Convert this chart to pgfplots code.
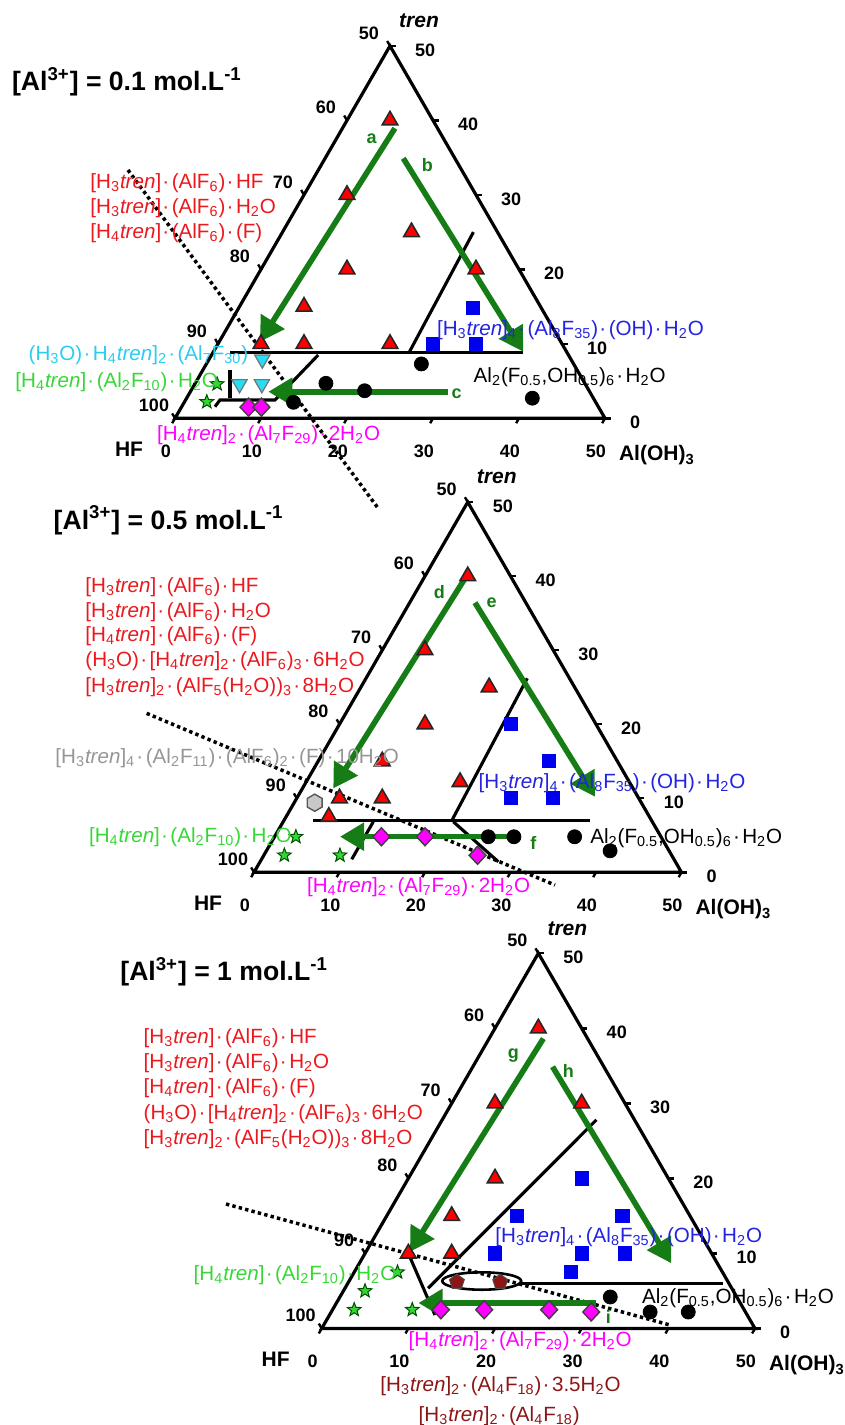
\documentclass[border=0pt]{standalone}
\usepackage{fontspec}
\setmainfont{Liberation Sans}
\usepackage{pgfplots}
\pgfplotsset{compat=1.18}
\usetikzlibrary{arrows.meta}

\definecolor{mred}{RGB}{255,0,0}
\definecolor{tred}{RGB}{235,25,30}
\definecolor{mblue}{RGB}{0,0,240}
\definecolor{tblue}{RGB}{35,35,225}
\definecolor{mcyan}{RGB}{40,220,245}
\definecolor{tcyan}{RGB}{40,205,240}
\definecolor{mgreen}{RGB}{50,215,50}
\definecolor{tgreen}{RGB}{55,215,55}
\definecolor{mmag}{RGB}{255,0,255}
\definecolor{tgray}{RGB}{150,150,150}
\definecolor{mgray}{RGB}{200,200,200}
\definecolor{dred}{RGB}{140,22,22}
\definecolor{agreen}{RGB}{22,125,22}

\pgfdeclareplotmark{fstar}{%
  \pgfpathmoveto{\pgfpointpolar{90}{1\pgfplotmarksize}}%
  \pgfpathlineto{\pgfpointpolar{126}{0.42\pgfplotmarksize}}%
  \pgfpathlineto{\pgfpointpolar{162}{1\pgfplotmarksize}}%
  \pgfpathlineto{\pgfpointpolar{198}{0.42\pgfplotmarksize}}%
  \pgfpathlineto{\pgfpointpolar{234}{1\pgfplotmarksize}}%
  \pgfpathlineto{\pgfpointpolar{270}{0.42\pgfplotmarksize}}%
  \pgfpathlineto{\pgfpointpolar{306}{1\pgfplotmarksize}}%
  \pgfpathlineto{\pgfpointpolar{342}{0.42\pgfplotmarksize}}%
  \pgfpathlineto{\pgfpointpolar{18}{1\pgfplotmarksize}}%
  \pgfpathlineto{\pgfpointpolar{54}{0.42\pgfplotmarksize}}%
  \pgfpathclose\pgfusepathqfillstroke}
\pgfdeclareplotmark{hex}{%
  \pgfpathmoveto{\pgfpointpolar{90}{1\pgfplotmarksize}}%
  \pgfpathlineto{\pgfpointpolar{150}{1\pgfplotmarksize}}%
  \pgfpathlineto{\pgfpointpolar{210}{1\pgfplotmarksize}}%
  \pgfpathlineto{\pgfpointpolar{270}{1\pgfplotmarksize}}%
  \pgfpathlineto{\pgfpointpolar{330}{1\pgfplotmarksize}}%
  \pgfpathlineto{\pgfpointpolar{30}{1\pgfplotmarksize}}%
  \pgfpathclose\pgfusepathqfillstroke}

\pgfplotsset{
  /pgfplots/table/tern/.style={row sep=\\, x expr={\thisrow{a}+0.5*\thisrow{t}}, y expr={0.8660254*\thisrow{t}}},
  ternax/.style={hide axis, scale only axis, clip=false, anchor=south west,
    xmin=0, xmax=50, ymin=0, ymax=43.30127},
  rtri/.style={only marks, mark=triangle*, mark size=4.5pt, mark options={fill=mred, draw=black!85, line width=0.8pt}},
  bsq/.style={only marks, mark=square*, mark size=3.3pt, mark options={fill=mblue, draw=mblue}},
  kcirc/.style={only marks, mark=*, mark size=3.5pt, mark options={fill=black, draw=black}},
  ctri/.style={only marks, mark=triangle*, mark size=4.4pt, mark options={rotate=180, fill=mcyan, draw=black!55, line width=0.6pt}},
  gstar/.style={only marks, mark=fstar, mark size=3.6pt, mark options={fill=mgreen, draw=black!70!green, line width=0.5pt}},
  mdia/.style={only marks, mark=diamond*, mark size=4.5pt, mark options={xscale=1.25, fill=mmag, draw=black!75, line width=0.7pt}},
  ghex/.style={only marks, mark=hex, mark size=4.3pt, mark options={fill=mgray, draw=black!65, line width=0.7pt}},
  dpent/.style={only marks, mark=pentagon*, mark size=3.9pt, mark options={fill=dred, draw=black!70, line width=0.5pt}},
  bl/.style={black, line width=1.55pt, mark=none},
  dotl/.style={black, line width=1.75pt, mark=none, dash pattern=on 1.7pt off 1.6pt},
  garrow/.style={draw=agreen, line width=2.8pt, mark=none, -{Triangle[length=12pt,width=13.5pt]}},
}

\newcommand\ticf{\fontsize{9}{10}\selectfont\bfseries}
\newcommand\cornf{\fontsize{10.5}{12}\selectfont\bfseries}
\newcommand\ternframe{%
  \draw[black, line width=1.6pt, line join=miter] (axis cs:0,0) -- (axis cs:50,0) -- (axis cs:25,43.30127) -- cycle;
  \pgfplotsinvokeforeach{0,10,20,30,40,50}{%
    \draw[line width=1.2pt] (axis cs:{0.5*##1},{0.8660254*##1}) -- ++(axis direction cs:-0.33,0.57);
    \draw[line width=1.2pt] (axis cs:{##1},0) -- ++(axis direction cs:-0.33,-0.57);
    \draw[line width=1.2pt] (axis cs:{50-0.5*##1},{0.8660254*##1}) -- ++(axis direction cs:0.66,0);
    \node[font=\ticf, xshift=-10.5pt, yshift=6.5pt] at (axis cs:{0.5*##1},{0.8660254*##1}) {\the\numexpr100-##1\relax};
    \node[font=\ticf, xshift=-4.5pt, yshift=-16.5pt] at (axis cs:{##1},0) {##1};
    \node[font=\ticf, anchor=west, xshift=9pt, yshift=-2pt] at (axis cs:{50-0.5*##1},{0.8660254*##1}) {##1};
  }
  \node[font=\cornf, xshift=-23pt, yshift=-15.5pt] at (axis cs:0,0) {HF};
  \node[font=\cornf, anchor=west, xshift=3.5pt, yshift=-18.5pt] at (axis cs:50,0) {Al(OH)\textsubscript{3}};
  \node[font=\cornf\itshape, xshift=14.5pt, yshift=12.5pt] at (axis cs:25,43.30127) {tren};
}

\newcommand\dt{\kern0.06em·\kern0.12em}
\newcommand\sub[1]{\textsubscript{#1}}
\newcommand\tr{\textit{tren}}
\newcommand\labf{\fontsize{10.3}{12}\selectfont}
\newcommand\titf{\fontsize{13.3}{15}\selectfont\bfseries}
\newcommand\arrf{\fontsize{9}{10}\selectfont\bfseries}

\begin{document}
\begin{tikzpicture}
\path[use as bounding box] (0,0) rectangle (422.5pt,-712.5pt);

% ---------------- Triangle 1 : 0.1 mol/L
\begin{axis}[ternax, at={(87.5pt,-209.15pt)}, width=215pt, height=186.195pt]
\ternframe
\addplot[dotl] table[tern]{a t\\ -22.14 33.34\\ 29.62 -12.04\\};
\addplot[bl] table[tern]{a t\\ 2.0 8.8\\ 36.1 8.8\\};
\addplot[bl] table[tern]{a t\\ 22.8 8.9\\ 22.2 25.0\\};
\addplot[bl] table[tern]{a t\\ 12.4 8.5\\ 10.4 2.46\\ 4.0 2.46\\ 3.87 1.56\\};
\addplot[bl] table[tern]{a t\\ 3.15 6.5\\ 5.06 2.68\\};
\addplot[garrow] table[tern]{a t\\ 6.1 38.94\\ 4.74 10.29\\};
\addplot[garrow] table[tern]{a t\\ 9.09 34.91\\ 36.03 8.94\\};
\addplot[garrow] table[tern]{a t\\ 29.99 3.57\\ 9.07 3.57\\};
\addplot[rtri] table[tern]{a t\\ 5 40\\ 5 30\\ 15 25\\ 10 20\\ 7.5 15\\ 25 20\\ 5 10\\ 10 10\\ 20 10\\};
\addplot[bsq] table[tern]{a t\\ 27.2 14.8\\ 25 10\\ 30 10\\};
\addplot[kcirc] table[tern]{a t\\ 25 7.3\\ 15.2 4.7\\ 20.2 3.7\\ 12.7 2.15\\ 40.2 2.7\\};
\addplot[ctri] table[tern]{a t\\ 6.2 7.9\\ 5.2 4.6\\ 7.8 4.6\\};
\addplot[gstar] table[tern]{a t\\ 2.6 4.6\\ 2.6 2.2\\};
\addplot[mdia] table[tern]{a t\\ 7.8 1.5\\ 9.3 1.5\\};
\end{axis}

% ---------------- Triangle 2 : 0.5 mol/L
\begin{axis}[ternax, at={(127pt,-436.15pt)}, width=213.75pt, height=185.11pt]
\ternframe
\addplot[dotl] table[tern]{a t\\ -23.29 21.47\\ 36.06 -1.72\\};
\addplot[bl] table[tern]{a t\\ 3.45 6.97\\ 35.8 6.97\\};
\addplot[bl] table[tern]{a t\\ 19.64 6.97\\ 18.86 26.2\\};
\addplot[bl] table[tern]{a t\\ 10.54 6.83\\ 10.55 1.76\\};
\addplot[bl] table[tern]{a t\\ 19.9 6.83\\ 27.86 1.43\\};
\addplot[garrow] table[tern]{a t\\ 4.83 39.7\\ 3.6 11.34\\};
\addplot[garrow] table[tern]{a t\\ 7.64 36.41\\ 34.78 10.21\\};
\addplot[garrow] table[tern]{a t\\ 27.54 4.81\\ 7.66 4.81\\};
\addplot[rtri] table[tern]{a t\\ 5 40\\ 5 30\\ 15 25\\ 10 20\\ 7.5 15\\ 18 12.2\\ 5 10\\ 10 10\\ 5 7.5\\};
\addplot[ghex] table[tern]{a t\\ 2.4 9.4\\};
\addplot[bsq] table[tern]{a t\\ 20 20\\ 27 15\\ 25 10\\ 30 10\\};
\addplot[kcirc] table[tern]{a t\\ 25 4.8\\ 28 4.8\\ 35.1 4.8\\ 40.2 2.9\\};
\addplot[mdia] table[tern]{a t\\ 12.5 4.8\\ 17.6 4.8\\ 25 2.3\\};
\addplot[gstar] table[tern]{a t\\ 2.5 4.8\\ 2.4 2.3\\ 8.9 2.3\\};
\end{axis}

% ---------------- Triangle 3 : 1 mol/L
\begin{axis}[ternax, at={(160.85pt,-664.25pt)}, width=216.65pt, height=187.62pt]
\ternframe
\addplot[dotl] table[tern]{a t\\ -19.34 16.59\\ 39.95 0.47\\};
\addplot[bl] table[tern]{a t\\ 17.8 27.8\\ 9.6 5.36\\};
\addplot[bl] table[tern]{a t\\ 5 10\\ 12.17 1.8\\};
\addplot[bl] table[tern]{a t\\ 19.7 6.02\\ 43.3 6.02\\};
\addplot[only marks, mark=o, mark size=4.35pt, mark options={xscale=4.54, draw=black, line width=1.3pt}] table[tern]{a t\\ 15.3 6.33\\};
\addplot[garrow] table[tern]{a t\\ 6.26 38.63\\ 5.07 10.23\\};
\addplot[garrow] table[tern]{a t\\ 9.2 34.88\\ 36.0 8.69\\};
\addplot[garrow] table[tern]{a t\\ 29.9 3.4\\ 9.47 3.4\\};
\addplot[rtri] table[tern]{a t\\ 5 40\\ 5 30\\ 15 30\\ 10 20\\ 7.5 15\\ 10 10\\ 5 10\\};
\addplot[bsq] table[tern]{a t\\ 20 20\\ 15 15\\ 27.2 15\\ 15 10\\ 25 10\\ 30 10\\ 25 7.5\\};
\addplot[dpent] table[tern]{a t\\ 12.5 6.2\\ 17.5 6.2\\};
\addplot[kcirc] table[tern]{a t\\ 31.2 4.2\\ 36.8 2.2\\ 41.2 2.2\\};
\addplot[mdia] table[tern]{a t\\ 12.5 2.5\\ 17.5 2.5\\ 25 2.5\\ 30 2.2\\};
\addplot[gstar] table[tern]{a t\\ 5 7.5\\ 2.5 5\\ 2.5 2.5\\ 9.2 2.5\\};
\end{axis}

% ---------------- text
\begin{scope}[x=0.5pt,y=-0.5pt, every node/.style={inner sep=0pt}]
\tikzset{lab/.style={anchor=base west, font=\labf}}
% titles
\node[anchor=base west, font=\titf] at (11.7,90.7) {[Al\textsuperscript{3+}] = 0.1 mol.L\textsuperscript{-1}};
\node[anchor=base west, font=\titf] at (53.3,529) {[Al\textsuperscript{3+}] = 0.5 mol.L\textsuperscript{-1}};
\node[anchor=base west, font=\titf] at (120,980.7) {[Al\textsuperscript{3+}] = 1 mol.L\textsuperscript{-1}};
% arrow letters
\foreach \xx/\yy/\ll in {371.7/138.3/a, 427.3/165/b, 456.7/393.3/c, 439.3/591.7/d, 491.7/602.7/e, 533.3/843.3/f, 513.3/1056/g, 568.3/1070.7/h, 608.3/1316.7/i}
  \node[font=\arrf, text=agreen] at (\xx,\yy) {\ll};
% T1 labels
\node[lab, text=tred] at (90,188.7) {[H\sub3\tr]\dt(AlF\sub6)\dt HF};
\node[lab, text=tred] at (90,213.7) {[H\sub3\tr]\dt(AlF\sub6)\dt H\sub2O};
\node[lab, text=tred] at (90,238.7) {[H\sub4\tr]\dt(AlF\sub6)\dt(F)};
\node[lab, text=tcyan] at (28.3,360.3) {(H\sub3O)\dt H\sub4\tr]\sub2\dt(Al\sub7F\sub{30})};
\node[lab, text=tgreen] at (15,387) {[H\sub4\tr]\dt(Al\sub2F\sub{10})\dt H\sub2O};
\node[lab, text=mmag] at (156.7,440.3) {[H\sub4\tr]\sub2\dt(Al\sub7F\sub{29})\dt 2H\sub2O};
\node[lab, text=tblue] at (436.7,335.3) {[H\sub3\tr]\sub4\dt(Al\sub8F\sub{35})\dt(OH)\dt H\sub2O};
\node[lab, text=black] at (473.3,382) {Al\sub2(F\sub{0.5},OH\sub{0.5})\sub6\dt H\sub2O};
% T2 labels
\node[lab, text=tred] at (85,592) {[H\sub3\tr]\dt(AlF\sub6)\dt HF};
\node[lab, text=tred] at (85,617) {[H\sub3\tr]\dt(AlF\sub6)\dt H\sub2O};
\node[lab, text=tred] at (85,641.3) {[H\sub4\tr]\dt(AlF\sub6)\dt(F)};
\node[lab, text=tred] at (85,666.3) {(H\sub3O)\dt[H\sub4\tr]\sub2\dt(AlF\sub6)\sub3\dt 6H\sub2O};
\node[lab, text=tred] at (85,692) {[H\sub3\tr]\sub2\dt(AlF\sub5(H\sub2O))\sub3\dt 8H\sub2O};
\node[lab, text=tgray] at (55,763.7) {[H\sub3\tr]\sub4\dt(Al\sub2F\sub{11})\dt(AlF\sub6)\sub2\dt(F)\dt 10H\sub2O};
\node[lab, text=tgreen] at (88.7,842) {[H\sub4\tr]\dt(Al\sub2F\sub{10})\dt H\sub2O};
\node[lab, text=mmag] at (306.7,892) {[H\sub4\tr]\sub2\dt(Al\sub7F\sub{29})\dt 2H\sub2O};
\node[lab, text=tblue] at (478.3,788.7) {[H\sub3\tr]\sub4\dt(Al\sub8F\sub{35})\dt(OH)\dt H\sub2O};
\node[lab, text=black] at (590,843.7) {Al\sub2(F\sub{0.5},OH\sub{0.5})\sub6\dt H\sub2O};
% T3 labels
\node[lab, text=tred] at (143.3,1043.7) {[H\sub3\tr]\dt(AlF\sub6)\dt HF};
\node[lab, text=tred] at (143.3,1068.7) {[H\sub3\tr]\dt(AlF\sub6)\dt H\sub2O};
\node[lab, text=tred] at (143.3,1093.7) {[H\sub4\tr]\dt(AlF\sub6)\dt(F)};
\node[lab, text=tred] at (143.3,1119.7) {(H\sub3O)\dt[H\sub4\tr]\sub2\dt(AlF\sub6)\sub3\dt 6H\sub2O};
\node[lab, text=tred] at (143.3,1144.3) {[H\sub3\tr]\sub2\dt(AlF\sub5(H\sub2O))\sub3\dt 8H\sub2O};
\node[lab, text=tgreen] at (193.3,1280.3) {[H\sub4\tr]\dt(Al\sub2F\sub{10})\dt H\sub2O};
\node[lab, text=mmag] at (408.3,1346.3) {[H\sub4\tr]\sub2\dt(Al\sub7F\sub{29})\dt 2H\sub2O};
\node[lab, text=tblue] at (495,1242) {[H\sub3\tr]\sub4\dt(Al\sub8F\sub{35})\dt(OH)\dt H\sub2O};
\node[lab, text=black] at (641.7,1303.7) {Al\sub2(F\sub{0.5},OH\sub{0.5})\sub6\dt H\sub2O};
\node[lab, text=dred] at (380,1391.3) {[H\sub3\tr]\sub2\dt(Al\sub4F\sub{18})\dt 3.5H\sub2O};
\node[lab, text=dred] at (418.3,1421) {[H\sub3\tr]\sub2\dt(Al\sub4F\sub{18})};
\end{scope}
\end{tikzpicture}
\end{document}
